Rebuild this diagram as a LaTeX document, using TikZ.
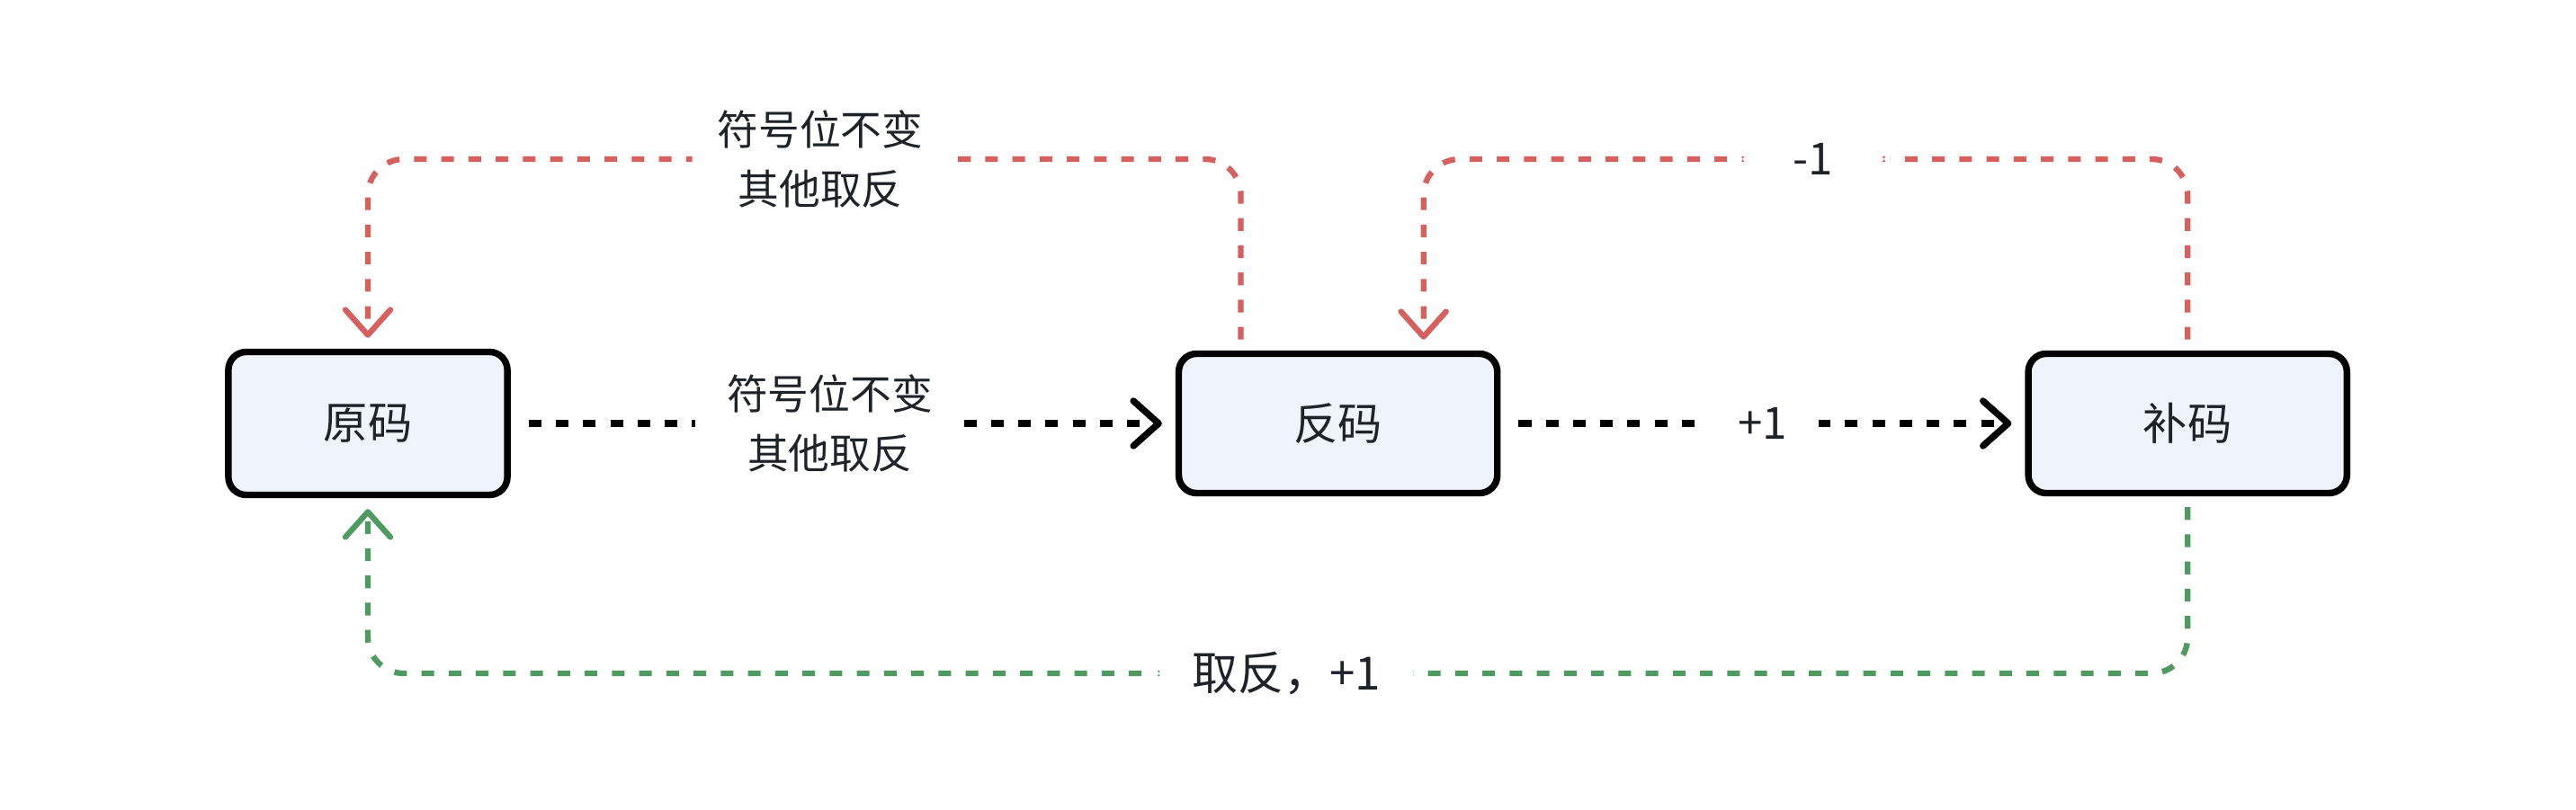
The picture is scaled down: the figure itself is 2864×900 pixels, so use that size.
\documentclass[tikz,border=0pt]{standalone}
\usepackage{fontspec}
\setmainfont{Noto Sans CJK SC}
\usetikzlibrary{positioning, arrows.meta}

\definecolor{boxfill}{HTML}{EEF3FC}
\definecolor{redline}{HTML}{D6605E}
\definecolor{greenline}{HTML}{4E9A61}
\definecolor{ink}{HTML}{1F2329}

\begin{document}
\begin{tikzpicture}[x=0.01cm, y=0.01cm, on grid,
  code/.style={draw, line width=2.1pt, rounded corners=0.2cm, fill=boxfill,
    minimum width=3.54cm, minimum height=1.55cm, text=ink,
    font=\fontsize{14}{17}\selectfont},
  lbl/.style={fill=white, inner xsep=10pt, inner ysep=0pt, align=center,
    text=ink, font=\fontsize{14}{17}\selectfont},
  conv/.style={line width=2.1pt, dash pattern=on 4pt off 4.6pt,
    -{Straight Barb[length=2.8mm, width=5mm, round]},
    shorten <=0.2cm, shorten >=0.15cm},
  back/.style={conv, line width=1.8pt, rounded corners=0.4cm,
    shorten <=0.12cm, shorten >=0.12cm}]
  \useasboundingbox (0,0) rectangle (2864,900);

  \node[code, minimum width=3.1cm, minimum height=1.59cm] (yuan) at (409,429) {原码};
  \node[code] (fan) [right=10.78cm of yuan] {反码};
  \node[code] (bu) [right=9.44cm of fan] {补码};

  % bends of the loops
  \coordinate (f1) at ([xshift=-1.08cm]fan.north);
  \coordinate (f2) at ([xshift=0.95cm]fan.north);
  \coordinate (upL) at (912,723);
  \coordinate (upR) at (2016,723);
  \coordinate (low) at (1430,151);

  \draw[conv] (yuan.east) -- node[lbl, font=\fontsize{13}{18.7}\selectfont, pos=0.48]
    {符号位不变\\其他取反} (fan.west);
  \draw[conv] (fan.east) -- node[lbl] {+1} (bu.west);

  \draw[back, redline] (f1) |- (upL)
    node[lbl, inner xsep=8pt, font=\fontsize{13}{18.7}\selectfont] {符号位不变\\其他取反}
    -| (yuan.north);
  \draw[back, redline] (bu.north) |- (upR) node[lbl, inner xsep=18pt] {-1} -| (f2);
  \draw[back, greenline] (bu.south) |- (low)
    node[lbl, inner xsep=11.5pt, font=\fontsize{14.5}{17}\selectfont] {取反，+1} -| (yuan.south);
\end{tikzpicture}
\end{document}
